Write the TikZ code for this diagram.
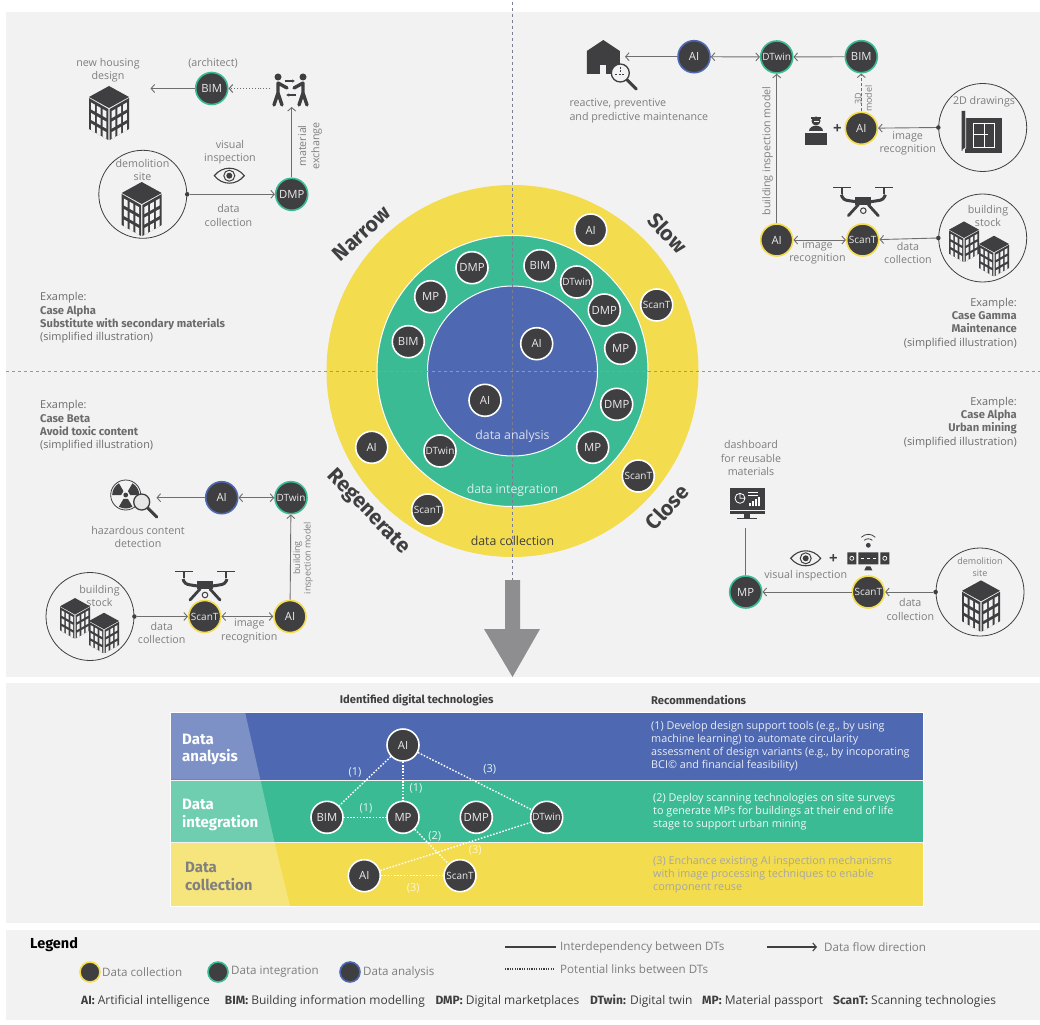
\documentclass[tikz,border=0pt]{standalone}
\usepackage{fontspec}
\setmainfont{Open Sans}
\newfontfamily\firafont{Fira Sans}
\usepackage{tikz}
\usetikzlibrary{arrows.meta,positioning}
\definecolor{panelgray}{HTML}{F2F2F2}
\definecolor{techdark}{HTML}{3F3F41}
\definecolor{lblgray}{HTML}{7E7E7E}
\definecolor{linegray}{HTML}{6E6E6E}
\definecolor{dashgray}{HTML}{7B7E92}
\definecolor{arrowgray}{HTML}{8E8E90}
\definecolor{cyellow}{HTML}{F3DC4E}
\definecolor{cgreen}{HTML}{3ABB93}
\definecolor{cblue}{HTML}{4E69B1}
\newcommand{\casebf}[1]{{\firafont\bfseries\fontsize{11.2}{13.3}\selectfont #1}}
\tikzset{
  tech/.style={ draw, circle, fill=techdark, line width=1.6pt, minimum size=32pt, inner sep=0pt, text=white!92!black, font=\fontsize{11.3}{12}\selectfont }
}
\tikzset{
  techS/.style={ font=\fontsize{10}{10}\selectfont }
}
\tikzset{
  techC/.style={ tech, draw=cyellow }
}
\tikzset{
  techI/.style={ tech, draw=cgreen }
}
\tikzset{
  techA/.style={ tech, draw=cblue }
}
\tikzset{
  techW/.style={ tech, draw=white }
}
\tikzset{
  lbl/.style={ align=center, inner sep=0pt, yshift=-1pt, text=lblgray, font=\fontsize{10.7}{13.4}\selectfont }
}
\tikzset{
  lgtxt/.style={ lbl, anchor=west, font=\fontsize{11.6}{13}\selectfont }
}
\tikzset{
  ringtxt/.style={ lbl, font=\fontsize{12.3}{14}\selectfont }
}
\tikzset{
  casetxt/.style={ inner sep=0pt, yshift=-1pt, text=lblgray!85!black, font=\fontsize{10.9}{13.3}\selectfont }
}
\tikzset{
  abbr/.style={ anchor=west, inner sep=0pt, yshift=-1pt, text=techdark, font=\fontsize{12}{13}\selectfont }
}
\tikzset{
  flow/.style={ draw=linegray, line width=.9pt, -{Straight Barb[length=3.5pt,width=8pt]} }
}
\tikzset{
  twoway/.style={ draw=linegray, line width=.9pt, {Straight Barb[length=3.5pt,width=8pt]}-{Straight Barb[length=3.5pt,width=8pt]} }
}
\tikzset{
  site/.style={ draw=techdark, circle, line width=.8pt, minimum size=88pt, inner sep=0pt }
}
\tikzset{
  dotnode/.style={ circle, fill=techdark, minimum size=4.5pt, inner sep=0pt }
}
\tikzset{
  potential/.style={ draw=white, line width=1.4pt, dash pattern=on 1.6pt off 1.6pt }
}
\tikzset{
  linknum/.style={ inner sep=0pt, text=white!85!cgreen, font=\fontsize{11}{12}\selectfont }
}
\tikzset{
  rrule/.style={ inner sep=0pt, text=techdark, font=\firafont\bfseries\fontsize{21}{22}\selectfont }
}
\tikzset{
  recom/.style={ anchor=west, align=left, inner sep=0pt, font=\fontsize{10.8}{13}\selectfont }
}
\tikzset{
  hdtxt/.style={ inner sep=0pt, text=techdark, font=\firafont\bfseries\fontsize{11.2}{12}\selectfont }
}
\tikzset{
  bandtxt/.style={ anchor=west, align=left, inner sep=0pt, text=white, font=\firafont\bfseries\fontsize{15}{17.5}\selectfont }
}
\tikzset{
  pics/bldg/.style={code={
    \fill[techdark] (0,-27) -- (20,-16) -- (0,-5) -- (-20,-16) -- cycle;
    \fill[techdark] (-20,-15) -- (-.7,-4) -- (-.7,27) -- (-20,16) -- cycle;
    \fill[techdark] (20,-15) -- (.7,-4) -- (.7,27) -- (20,16) -- cycle;
    \foreach \cc in {0,1,2} \foreach \rr in {0,1,2} {
      \fill[panelgray, shift={(-17.9+5.8*\cc,-10.5+3.3*\cc+10.5*\rr)}] (0,0) -- (3.7,2.1) -- (3.7,9) -- (0,6.9) -- cycle;
      \fill[panelgray, shift={(17.9-5.8*\cc,-10.5+3.3*\cc+10.5*\rr)}] (0,0) -- (-3.7,2.1) -- (-3.7,9) -- (0,6.9) -- cycle;
    }
  }},
  pics/eye/.style={code={
    \draw[techdark, line width=1.1pt] (-15,0) .. controls (-7,-10) and (7,-10) .. (15,0) .. controls (7,10) and (-7,10) .. (-15,0) -- cycle;
    \draw[techdark, line width=1pt] (0,0) circle (5.5pt);
    \fill[techdark] (0,0) circle (3pt);
  }},
  pics/drone/.style={code={
    \draw[techdark, line width=.7pt] (-30,-14.5) -- (-12,-14.5) (12,-14.5) -- (30,-14.5);
    \draw[techdark, line width=1.8pt] (-21,-14) -- (-21,-8) (21,-14) -- (21,-8);
    \draw[techdark, line width=3pt, rounded corners=3pt] (-22,-7) -- (-20,-2) -- (-8,0) -- (8,0) -- (20,-2) -- (22,-7);
    \fill[techdark] (-8,-5) rectangle (8,3);
    \draw[techdark, line width=2.8pt, line cap=round] (-5,3) -- (-15,14) (5,3) -- (15,14);
    \draw[techdark, line width=1pt] (0,9) circle (2.8pt);
  }},
  pics/people/.style={code={
    \fill[techdark] (-13,-13) circle (3.5pt) (12,-13) circle (3.5pt);
    \draw[techdark, line width=3.4pt, line cap=round] (-13,-7) -- (-13,3) (-13,3) -- (-17,15) (-13,3) -- (-9,15) (-13,-7) -- (-4,-2);
    \draw[techdark, line width=3.4pt, line cap=round] (12,-7) -- (12,3) (12,3) -- (8,15) (12,3) -- (16,15) (12,-7) -- (3,-2);
    \draw[techdark, line width=1.1pt, -{Latex[length=3pt,width=3.5pt]}] (-6,-9) -- (4,-9);
    \draw[techdark, line width=1.1pt, -{Latex[length=3pt,width=3.5pt]}] (5,5) -- (-5,5);
  }},
  pics/glass/.style={code={
    \draw[techdark, line width=3pt, line cap=round] (6,6) -- (16,16);
    \draw[techdark, line width=1.3pt, fill=panelgray] (0,0) circle (9pt);
  }},
  pics/house/.style={code={
    \fill[techdark] (-16.5,-7) -- (0,-18) -- (16.5,-7) -- (16.5,16) -- (-16.5,16) -- cycle;
    \fill[panelgray] (-3,7) rectangle (3,16);
    \begin{scope}[shift={(17,15)}]
      \pic {glass};
      \draw[techdark, line width=1pt, dash pattern=on 2pt off 1.5pt] (0,-6) -- (0,1) (-5,2) -- (5,2);
    \end{scope}
  }},
  pics/radiation/.style={code={
    \draw[techdark, line width=.8pt] (0,0) circle (15pt);
    \fill[techdark] (0,0) circle (2.4pt);
    \foreach \ang in {0,120,240} {
      \fill[techdark] (\ang:4.5pt) -- (\ang:13.5pt) arc[start angle=\ang, end angle=\ang+60, radius=13.5pt] -- (\ang+60:4.5pt) -- cycle;
    }
    \begin{scope}[shift={(16,7)}]
      \draw[techdark, line width=3pt, line cap=round] (6,6) -- (15,15);
      \draw[techdark, line width=1.3pt, fill=white!90!black] (0,0) circle (8pt);
    \end{scope}
  }},
  pics/deskman/.style={code={
    \fill[techdark] (-11,2) rectangle (11,15);
    \fill[panelgray] (-11,2) rectangle (11,3.2);
    \fill[techdark] (-7,1) .. controls (-7,-6) and (7,-6) .. (7,1) -- cycle;
    \fill[techdark] (0,-9) circle (4.5pt);
    \fill[panelgray] (-2.5,-9) rectangle (2.5,-7.5);
    \fill[techdark] (-5,-13) rectangle (5,-11);
  }},
  pics/plan/.style={code={
    \fill[techdark] (-17,-14) rectangle (20,21);
    \fill[techdark] (-20,-21) -- (-16,-21) -- (-16,16) -- (-20,19) -- cycle;
    \draw[panelgray, line width=.8pt] (-16,-21) -- (-16,16) -- (-19,18);
    \draw[white, line width=.7pt] (-8,-9) rectangle (13,15) (-8,2) -- (6,2) (3,-9) -- (3,15);
  }},
  pics/monitor/.style={code={
    \fill[techdark] (-17.5,-15) rectangle (17.5,11);
    \fill[panelgray] (-17.5,7) rectangle (17.5,8);
    \fill[techdark] (-3,11) rectangle (3,15);
    \fill[techdark] (-10,15) rectangle (10,16);
    \draw[white, line width=.8pt] (-7,-5) circle (5pt) (-7,-10) -- (-7,-5) -- (-2,-5);
    \draw[white, line width=.8pt] (1,-11) -- (11,-11) (1,-8) -- (11,-8);
    \draw[white, line width=1.1pt] (3,3) -- (3,0) (6,3) -- (6,-2) (9,3) -- (9,-4) (12,3) -- (12,-6);
  }},
  pics/scanner/.style={code={
    \fill[techdark] (-21,-6) rectangle (-12,6) (-10,-6) rectangle (10,6) (12,-6) rectangle (21,6);
    \draw[white, line width=.7pt] (-16.5,0) circle (2pt) (16.5,0) circle (2pt);
    \draw[white, line width=1pt, dash pattern=on 3pt off 3pt] (-7,0) -- (8,0);
    \fill[techdark] (-4,12) -- (-2,8) -- (2,8) -- (4,12) -- cycle;
    \fill[techdark] (0,-13) circle (2.4pt);
    \draw[techdark, line width=.8pt] (-4,-18) .. controls (-2,-20) and (2,-20) .. (4,-18) (-7,-21) .. controls (-3,-25) and (3,-25) .. (7,-21);
  }}
}

\begin{document}
\begin{tikzpicture}[x=1pt, y=-1pt]
      \useasboundingbox (0,0) rectangle (1040,1024);

      % panels
      \fill[panelgray] (6,12) rectangle (1040,677);
      \fill[panelgray] (6,683) rectangle (1040,923);
      \fill[panelgray] (6,930) rectangle (1040,1020);

      % rings
      \node[circle, fill=cyellow, minimum size=372pt, inner sep=0pt] (ringC) at (512.5,371) {};
      \node[circle, draw=white, line width=1pt, fill=cgreen, minimum size=271pt, inner sep=0pt] (ringI) at (512.5,371) {};
      \node[circle, draw=white, line width=1pt, fill=cblue, minimum size=170pt, inner sep=0pt] (ringA) at (512.5,371) {};

      % axes and big arrow
      \coordinate (axisT) at (512.5,2);
      \coordinate (axisB) at (512.5,580);
      \coordinate (axisL) at (6,371);
      \coordinate (axisR) at (1040,371);
      \draw[dashgray, line width=.8pt, dashed] (axisT) -- (axisB);
      \draw[dashgray!80!white, line width=.8pt, dashed] (axisL) -- (axisR);
      \fill[arrowgray] (505,580) -- (520,580) -- (520,629) -- (540,629) -- (512.5,677) -- (484,629) -- (505,629) -- cycle;

      \node[ringtxt, text=white!80!cblue] (txtDA) at (512.5,435) {data analysis};
      \node[ringtxt, text=white!80!cgreen] (txtDI) at (512.5,489.5) {data integration};
      \node[ringtxt, text=techdark] (txtDC) at (512.5,539.5) {data collection};

      \node[rrule, rotate=43] (ruleN) at (361.5,233.5) {Narrow};
      \node[rrule, rotate=-47] (ruleS) at (668,233) {Slow};
      \node[rrule, rotate=47] (ruleC) at (667,507) {Close};
      \node[rrule, rotate=-46] (ruleR) at (368,512) {Regenerate};

      \node[techW] (r0) at (590.7,230) {AI};
      \node[techW, techS] (r1) at (656.7,305) {ScanT};
      \node[techW] (r2) at (540,265.7) {BIM};
      \node[techW, techS] (r3) at (576.7,282) {DTwin};
      \node[techW] (r4) at (604.3,310) {DMP};
      \node[techW] (r5) at (620.7,348.3) {MP};
      \node[techW] (r6) at (616.7,404.3) {DMP};
      \node[techW] (r7) at (592.7,447.3) {MP};
      \node[techW, techS] (r8) at (638.3,476) {ScanT};
      \node[techW] (r9) at (536.7,343.7) {AI};
      \node[techW] (r10) at (485,400.3) {AI};
      \node[techW, techS] (r11) at (440,451) {DTwin};
      \node[techW] (r12) at (371.7,447.3) {AI};
      \node[techW, techS] (r13) at (427.7,510) {ScanT};
      \node[techW] (r14) at (408.3,341.7) {BIM};
      \node[techW] (r15) at (430.7,296.7) {MP};
      \node[techW] (r16) at (472,267.7) {DMP};

      % top left
      \node[lbl] (tlHouse) at (108,69) {new housing\\design};
      \pic at (109,113) {bldg};
      \coordinate (tlTip) at (150.5,88.5);
      \node[lbl] (tlArch) at (213,62) {(architect)};
      \node[techI] (tlBIM) at (211.7,88.5) {BIM};
      \pic at (291,90) {people};
      \coordinate (tlPplW) at (270,88.5);
      \coordinate (tlPplS) at (291.7,107);
      \node[techI] (tlDMP) at (291.7,194.3) {DMP};
      \node[site] (tlSite) at (142.8,194.3) {};
      \node[lbl] (tlSiteTxt) at (142.5,169) {demolition\\site};
      \pic at (141.7,209) {bldg};
      \node[dotnode] (tlDot) at (tlSite.east) {};
      \draw[flow] (tlBIM) -- (tlTip);
      \draw[flow, dotted, line width=1.1pt] (tlPplW) -- (tlBIM);
      \draw[flow] (tlDMP) -- (tlPplS);
      \draw[flow] (tlDot) -- (tlDMP);
      \node[lbl] (tlVis) at (230,151) {visual\\inspection};
      \pic at (229.3,175.7) {eye};
      \node[lbl] (tlData) at (228.5,214.5) {data\\collection};
      \node[lbl, rotate=90] (tlMat) at (310,145) {material\\exchange};
      \node[casetxt, anchor=west, align=left] (tlCase) at (40,317) {Example:\\\casebf{Case Alpha}\\\casebf{Substitute with secondary materials}\\(simplified illustration)};

      % top right
      \pic at (603.3,58) {house};
      \node[lbl, anchor=west, align=left] (trMaint) at (569.3,110) {reactive, preventive\\and predictive maintenance};
      \coordinate (trTip) at (625,56.7);
      \node[techA] (trAI) at (694,56.7) {AI};
      \node[techI, techS] (trDT) at (776.7,57) {DTwin};
      \node[techI] (trBIM) at (861.3,56.7) {BIM};
      \node[techC] (trAI2) at (861.3,128.3) {AI};
      \pic at (816,130) {deskman};
      \node[inner sep=0pt, text=techdark, font=\bfseries\fontsize{15}{16}\selectfont] (trPlus) at (837.3,129) {+};
      \node[site] (trDraw) at (982.7,127.5) {};
      \node[lbl] (trDrawTxt) at (984,101) {2D drawings};
      \pic at (981.7,132) {plan};
      \node[dotnode] (trDot) at (trDraw.west) {};
      \node[techC] (trAI3) at (776.7,240) {AI};
      \node[techC, techS] (trScan) at (862.7,240) {ScanT};
      \pic at (863.3,201.7) {drone};
      \node[site] (trStock) at (982.7,238) {};
      \node[lbl] (trStockTxt) at (988,215) {building\\stock};
      \pic[scale=.75] at (964,241.7) {bldg};
      \pic[scale=.75] at (994,256) {bldg};
      \node[dotnode] (trDot2) at (trStock.west) {};
      \draw[flow] (trAI) -- (trTip);
      \draw[twoway] (trAI) -- (trDT);
      \draw[flow] (trBIM) -- (trDT);
      \draw[flow, densely dashed] (trAI2) -- (trBIM);
      \draw[flow] (trDot) -- (trAI2);
      \draw[flow] (trAI3) -- (trDT);
      \draw[twoway] (trAI3) -- (trScan);
      \draw[flow] (trDot2) -- (trScan);
      \node[lbl, rotate=90] (trModel) at (767.5,150) {building inspection model};
      \node[lbl, rotate=90, font=\fontsize{9}{10.5}\selectfont] (tr3D) at (863.5,97.5) {3D\\model};
      \node[lbl] (trImg) at (907.7,142.5) {image\\recognition};
      \node[lbl] (trImg2) at (817.5,251.5) {image\\recognition};
      \node[lbl] (trData) at (908,252) {data\\collection};
      \node[casetxt, anchor=east, align=right] (trCase) at (1017,322.5) {Example:\\\casebf{Case Gamma}\\\casebf{Maintenance}\\(simplified illustration)};

      % bottom left
      \node[casetxt, anchor=west, align=left] (blCase) at (40,425) {Example:\\\casebf{Case Beta}\\\casebf{Avoid toxic content}\\(simplified illustration)};
      \pic at (125.7,495) {radiation};
      \coordinate (blTip) at (156.5,497.7);
      \node[lbl] (blHaz) at (138,536) {hazardous content\\detection};
      \node[techA] (blAI) at (221.7,497.7) {AI};
      \node[techI, techS] (blDT) at (291,497.7) {DTwin};
      \node[techC] (blAI2) at (290,616.5) {AI};
      \node[techC, techS] (blScan) at (204.7,616.5) {ScanT};
      \pic at (205,586) {drone};
      \node[site] (blStock) at (90,616.5) {};
      \node[lbl] (blStockTxt) at (99.5,595) {building\\stock};
      \pic[scale=.75] at (75,618.3) {bldg};
      \pic[scale=.75] at (104,633) {bldg};
      \node[dotnode] (blDot) at (blStock.east) {};
      \draw[flow] (blAI) -- (blTip);
      \draw[twoway] (blAI) -- (blDT);
      \draw[flow] (blAI2) -- (blDT);
      \draw[twoway] (blScan) -- (blAI2);
      \draw[flow] (blDot) -- (blScan);
      \node[lbl] (blData) at (161.7,632) {data\\collection};
      \node[lbl] (blImg) at (249.3,630) {image\\recognition};
      \node[lbl, rotate=90, font=\fontsize{9}{10.5}\selectfont] (blModel) at (303,557) {building\\inspection model};

      % bottom right
      \node[casetxt, anchor=east, align=right] (brCase) at (1017,421.5) {Example:\\\casebf{Case Alpha}\\\casebf{Urban mining}\\(simplified illustration)};
      \node[lbl] (brDash) at (751,457) {dashboard\\for reusable\\materials};
      \pic at (747,503.3) {monitor};
      \coordinate (brMon) at (745.7,528.3);
      \node[techI] (brMP) at (745.7,592) {MP};
      \node[techC, techS] (brScan) at (868.3,592) {ScanT};
      \pic at (805.7,558.3) {eye};
      \node[inner sep=0pt, text=techdark, font=\bfseries\fontsize{15}{16}\selectfont] (brPlus) at (833.3,559) {+};
      \pic at (868.3,558.3) {scanner};
      \node[lbl] (brVis) at (805.7,574.3) {visual inspection};
      \node[site] (brSite) at (980,592) {};
      \node[lbl, font=\fontsize{9}{11.5}\selectfont] (brSiteTxt) at (980,566.3) {demolition\\site};
      \pic[scale=.95] at (981,606) {bldg};
      \node[dotnode] (brDot) at (brSite.west) {};
      \draw[draw=linegray, line width=.9pt] (brMon) -- (brMP);
      \draw[flow] (brScan) -- (brMP);
      \draw[flow] (brDot) -- (brScan);
      \node[lbl] (brData) at (910.3,608.3) {data\\collection};

      % table of digital technologies
      \node[hdtxt] (hdTech) at (416.7,700.5) {Identified digital technologies};
      \node[hdtxt, anchor=west] (hdRec) at (651,700.5) {Recommendations};
      \fill[cblue] (170,712) rectangle (923,779.5);
      \fill[cgreen] (170,780.5) rectangle (923,842);
      \fill[cyellow] (170,843) rectangle (923,906);
      \fill[white, fill opacity=.27] (170,712) -- (245,712) -- (260.3,779.5) -- (170,779.5) -- cycle;
      \fill[white, fill opacity=.27] (170,780.5) -- (260.6,780.5) -- (274.5,842) -- (170,842) -- cycle;
      \fill[white, fill opacity=.27] (170,843) -- (274.7,843) -- (290,906) -- (170,906) -- cycle;
      \draw[white, line width=.7pt] (170,712) rectangle (923,906);

      \node[bandtxt] (bandA) at (182,749.5) {Data\\analysis};
      \node[bandtxt] (bandI) at (182,815) {Data\\integration};
      \node[bandtxt, text=black!50!white] (bandC) at (185,876.5) {Data\\collection};

      \node[techW] (tbAI) at (403,745) {AI};
      \node[techW] (tbBIM) at (327,817.3) {BIM};
      \node[techW] (tbMP) at (403,817.3) {MP};
      \node[techW] (tbDMP) at (476.3,817.3) {DMP};
      \node[techW, techS] (tbDT) at (546.7,817.3) {DTwin};
      \node[techW] (tbAI2) at (364.3,875.7) {AI};
      \node[techW, techS] (tbScan) at (460,875.7) {ScanT};
      \draw[potential] (tbAI) -- (tbBIM);
      \draw[potential] (tbAI) -- (tbMP);
      \draw[potential] (tbAI) -- (tbDT);
      \draw[potential] (tbBIM) -- (tbMP);
      \draw[potential] (tbMP) -- (tbScan);
      \draw[potential] (tbAI2) -- (tbDT);
      \draw[potential] (tbAI2) -- (tbScan);
      \node[linknum] (n0) at (355,772.3) {(1)};
      \node[linknum] (n1) at (416,788.7) {(1)};
      \node[linknum] (n2) at (366,808.7) {(1)};
      \node[linknum] (n3) at (489.7,769.3) {(3)};
      \node[linknum] (n4) at (434.7,836.7) {(2)};
      \node[linknum, text=white!75!cyellow] (n5) at (475.3,850.3) {(3)};
      \node[linknum, text=white!75!cyellow] (n6) at (413.3,888.7) {(3)};

      \node[recom, text=white!88!cblue] (rec1) at (651,746) {(1) Develop design support tools (e.g., by using\\machine learning) to automate circularity\\assessment of design variants (e.g., by incoporating\\BCI© and financial feasibility)};
      \node[recom, text=white!92!cgreen] (rec2) at (653,811.5) {(2) Deploy scanning technologies on site surveys\\to generate MPs for buildings at their end of life\\stage to support urban mining};
      \node[recom, text=black!35!white] (rec3) at (653,874.5) {(3) Enchance existing AI inspection mechanisms\\with image processing techniques to enable\\component reuse};

      % legend
      \node[anchor=west, inner sep=0pt, text=black, font=\firafont\bfseries\fontsize{14.5}{16}\selectfont] (lgTitle) at (30,945) {Legend};
      \node[techC, minimum size=20pt] (lgC) at (90,972) {};
      \node[techI, minimum size=20pt] (lgI) at (218,972) {};
      \node[techA, minimum size=20pt] (lgA) at (350,972) {};
      \node[lgtxt] (lgCt) at (102,971) {Data collection};
      \node[lgtxt] (lgIt) at (231,971) {Data integration};
      \node[lgtxt] (lgAt) at (363,971) {Data analysis};
      \coordinate (lgL0) at (505,947);
      \coordinate (lgL1) at (556,947);
      \coordinate (lgF0) at (767,947);
      \coordinate (lgF1) at (817,947);
      \coordinate (lgD0) at (505,969);
      \coordinate (lgD1) at (555,969);
      \draw[draw=techdark, line width=1.1pt] (lgL0) -- (lgL1);
      \draw[draw=techdark, line width=1.1pt, -{Straight Barb[length=3.5pt,width=8pt]}] (lgF0) -- (lgF1);
      \draw[draw=techdark, line width=1.1pt, dash pattern=on 1.2pt off 1.2pt] (lgD0) -- (lgD1);
      \node[lgtxt] (lgLt) at (560,946) {Interdependency between DTs};
      \node[lgtxt] (lgFt) at (824,946) {Data flow direction};
      \node[lgtxt] (lgDt) at (560,968) {Potential links between DTs};
      \node[abbr] (ab0) at (81,1000.5) {{\firafont\bfseries AI:} Artificial intelligence};
      \node[abbr] (ab1) at (224.7,1000.5) {{\firafont\bfseries BIM:} Building information modelling};
      \node[abbr] (ab2) at (435.3,1000.5) {{\firafont\bfseries DMP:} Digital marketplaces};
      \node[abbr] (ab3) at (590,1000.5) {{\firafont\bfseries DTwin:} Digital twin};
      \node[abbr] (ab4) at (702,1000.5) {{\firafont\bfseries MP:} Material passport};
      \node[abbr] (ab5) at (833,1000.5) {{\firafont\bfseries ScanT:} Scanning technologies};

    \end{tikzpicture}
\end{document}
